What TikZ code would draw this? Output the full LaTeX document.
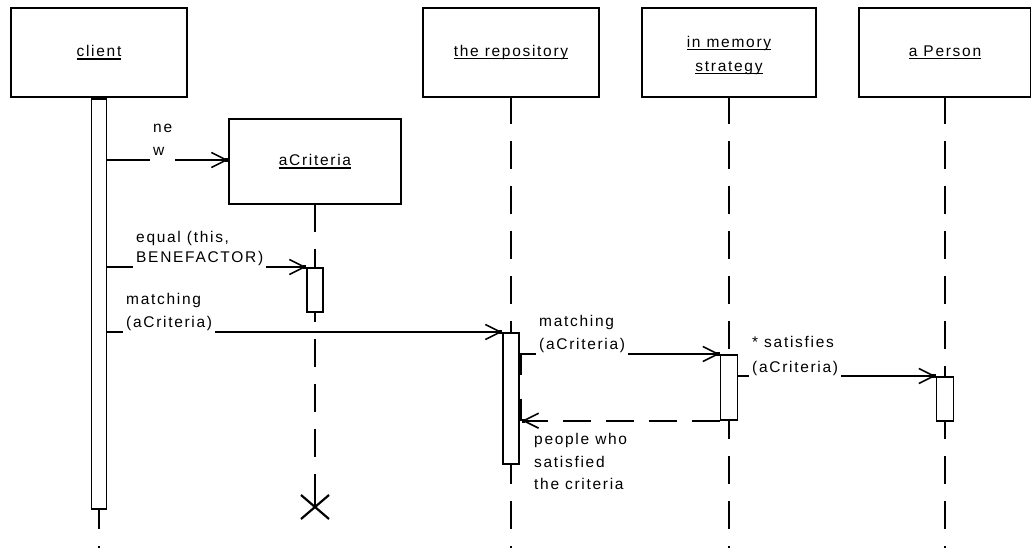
\documentclass[tikz,border=0pt]{standalone}
\usepackage{fontspec}
\setmainfont{Liberation Sans}[LetterSpace=11]
\usetikzlibrary{arrows.meta,calc}
\newcommand\ulx[1]{\setbox0\hbox{#1}\rlap{\rule[-2.8pt]{\wd0}{1.4pt}}\box0}
\begin{document}
\begin{tikzpicture}[x=1pt,y=-1pt,
  every node/.style={font=\fontsize{15.5}{23}\selectfont},
  obj/.style={draw,line width=1.7pt,fill=white,inner sep=0pt,align=center},
  act/.style={draw,line width=1.7pt,fill=white,inner sep=0pt,minimum width=16pt,anchor=north},
  life/.style={line width=1.7pt,dash pattern=on 28pt off 17pt},
  msg/.style={line width=1.6pt,-{Straight Barb[length=15pt,width=15pt]}},
  ret/.style={msg,dash pattern=on 28pt off 15pt},
  lbl/.style={fill=white,inner xsep=3pt,inner ysep=2pt,align=left,text depth=3.5pt,anchor=south west},
  tipdot/.pic={\fill (-3.5,-1.9) rectangle (0,1.9);}
]
\fill[white] (0,0) rectangle (1031,548);
\useasboundingbox (0,0) rectangle (1031,548);

% objects
\node[obj,minimum width=176pt,minimum height=89pt] (client) at (99,52.5) {\ulx{client}};
\node[obj,minimum width=172pt,minimum height=85pt] (crit) at (315,161.5) {\ulx{aCriteria}};
\node[obj,minimum width=176pt,minimum height=89pt] (repo) at (511,52.5) {\ulx{the repository}};
\node[obj,minimum width=174pt,minimum height=89pt,font=\fontsize{15.5}{24}\selectfont] (mem) at (729,52.5) {\rule{0pt}{17pt}\ulx{in memory}\\\ulx{strategy}};
\node[obj,minimum width=172pt,minimum height=89pt] (pers) at (945,52.5) {\ulx{a Person}};

% lifelines
\coordinate (bot) at (0,548);
\coordinate (dx) at (315,507);
\draw[life,dash phase=2pt] (client.south) -- (client.south |- bot);
\draw[life,dash phase=1pt] (crit.south) -- (dx);
\draw[line width=1.7pt] ($(dx)+(0,-8)$) -- (dx);
\draw[life,dash phase=2pt] (repo.south) -- (repo.south |- bot);
\draw[life,dash phase=2pt] (mem.south) -- (mem.south |- bot);
\draw[life,dash phase=2pt] (pers.south) -- (pers.south |- bot);

% destruction
\draw[line width=2.2pt] ($(dx)+(-14,-12)$) -- ($(dx)+(14,12)$) ($(dx)+(-14,12)$) -- ($(dx)+(14,-12)$);

% activations
\node[act,minimum width=15pt,minimum height=410pt] (cact) at (client.south) {};
\node[act,minimum height=44pt] (aact) at (crit.south |- 0,267) {};
\node[act,minimum height=131pt] (ract) at (repo.south |- 0,332) {};
\node[act,minimum width=17pt,minimum height=65pt] (mact) at (mem.south |- 0,354) {};
\node[act,minimum width=17pt,minimum height=44pt] (pact) at (pers.south |- 0,376) {};

\draw[line width=2.6pt] ($(ract.east |- mact.north)+(1,0)$) -- ++(0,21);
\draw[line width=2.6pt] ($(ract.east |- mact.south)+(1,-22)$) -- ++(0,22);

% messages
\coordinate (y1) at (0,160);
\draw[msg] (cact.east |- y1) -- (crit.west |- y1);
\pic at (crit.west |- y1) {tipdot};
\draw[msg] (cact.east |- aact.north) -- (aact.north west);
\pic at (aact.north west) {tipdot};
\draw[msg] (cact.east |- ract.north) -- (ract.north west);
\pic at (ract.north west) {tipdot};
\draw[msg] (ract.east |- mact.north) -- (mact.north west);
\pic at (mact.north west) {tipdot};
\draw[msg] (mact.east |- pact.north) -- (pact.north west);
\pic at (pact.north west) {tipdot};
\coordinate (rt) at ($(ract.east |- mact.south)+(2,0)$);
\draw[ret] (mact.south west) -- (rt);
\pic[rotate=180] at (rt) {tipdot};

% labels
\node[lbl,font=\fontsize{15.5}{23.5}\selectfont] (l1) at (150,161.5) {ne\\w};
\node[lbl,font=\fontsize{15.5}{20.5}\selectfont] (l2) at (133,268.5) {equal (this,\\BENEFACTOR)};
\node[lbl] (l3) at (123,333.5) {matching\\(aCriteria)};
\node[lbl,font=\fontsize{15.5}{23.5}\selectfont] (l4) at (536,355.5) {matching\\(aCriteria)};
\node[lbl,font=\fontsize{15.5}{24.5}\selectfont] (l5) at (749,378) {* satisfies\\(aCriteria)};
\node[lbl,font=\fontsize{15.5}{22.5}\selectfont] (l6) at (531,495.5) {people who\\satisfied\\the criteria};
\end{tikzpicture}
\end{document}
